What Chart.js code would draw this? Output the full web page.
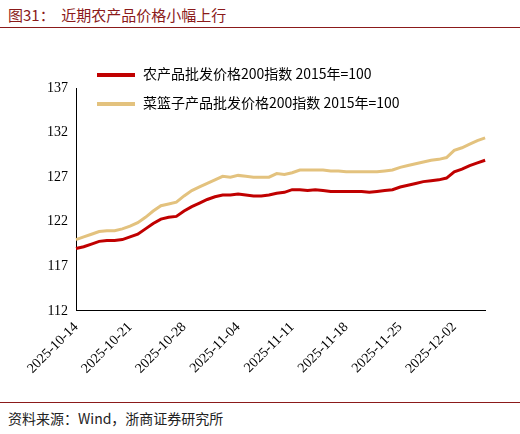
<!DOCTYPE html>
<html><head><meta charset="utf-8">
<script src="https://cdn.jsdelivr.net/npm/chart.js@4"></script>
<style>
body{margin:0;width:520px;height:434px;background:#fff;font-family:"Noto Sans CJK SC","Liberation Serif",serif;position:relative;overflow:hidden}
#title{position:absolute;left:8px;top:4px;font-size:15px;color:#8b1a1a}
#tl{position:absolute;left:0;top:27px;width:520px;border-top:1px solid #8b1a1a}
#bl{position:absolute;left:0;top:402px;width:520px;border-top:1px solid #8b1a1a}
#src{position:absolute;left:8px;top:408px;font-size:14px;color:#222}
#wrap{position:absolute;left:0;top:0;width:500px;height:380px}
.lg{position:absolute;left:97px;font-size:14px;color:#000;font-family:"Noto Sans CJK SC","Liberation Serif";z-index:2;background:transparent}
.lg span{display:inline-block;width:38px;height:4px;vertical-align:middle;margin-right:8px}
</style></head><body>
<div id="title">图31：&nbsp;&nbsp;近期农产品价格小幅上行</div><div id="tl"></div>
<div id="wrap"><canvas id="c"></canvas></div>
<div class="lg" id="l1" style="top:63px"></div>
<div class="lg" id="l2" style="top:92px"></div>
<div id="bl"></div><div id="src">资料来源：Wind，浙商证券研究所</div>
<script>
const dates=[];(function(){const d=new Date(Date.UTC(2025,9,14));for(let i=0;i<54;i++){dates.push(d.toISOString().slice(0,10));d.setUTCDate(d.getUTCDate()+1);}})();
const agri=[119.0,119.2,119.5,119.8,119.9,119.9,120.0,120.3,120.6,121.2,121.8,122.3,122.5,122.6,123.2,123.7,124.1,124.5,124.8,125.0,125.0,125.1,125.0,124.9,124.9,125.0,125.2,125.3,125.6,125.6,125.5,125.6,125.5,125.4,125.4,125.4,125.4,125.4,125.3,125.4,125.5,125.6,125.9,126.1,126.3,126.5,126.6,126.7,126.9,127.6,127.9,128.3,128.6,128.9];
const veg=[120.0,120.3,120.6,120.9,121.0,121.0,121.2,121.5,121.9,122.5,123.2,123.8,124.0,124.2,124.9,125.5,125.9,126.3,126.7,127.1,127.0,127.2,127.1,127.0,127.0,127.0,127.4,127.3,127.5,127.8,127.8,127.8,127.8,127.7,127.7,127.6,127.6,127.6,127.6,127.6,127.7,127.8,128.1,128.3,128.5,128.7,128.9,129.0,129.2,130.0,130.3,130.7,131.1,131.4];
const yTicks=[112,117,122,127,132,137];
const names=['农产品批发价格200指数 2015年=100','菜篮子产品批发价格200指数 2015年=100'];
const colors=['#c00000','#e3c27e'];
document.getElementById('l1').innerHTML='<span style="background:'+colors[0]+'"></span>'+names[0];
document.getElementById('l2').innerHTML='<span style="background:'+colors[1]+'"></span>'+names[1];
new Chart(document.getElementById('c'),{type:'line',
data:{labels:dates,datasets:[
{label:names[0],data:agri,borderColor:colors[0],borderWidth:3,pointRadius:0,tension:0},
{label:names[1],data:veg,borderColor:colors[1],borderWidth:3,pointRadius:0,tension:0}]},
options:{responsive:true,maintainAspectRatio:false,animation:false,
layout:{padding:{left:44,right:0,top:88}},
plugins:{legend:{display:false},tooltip:{enabled:false}},
scales:{
x:{offset:false,grid:{display:false,tickLength:5},border:{color:'#000'},ticks:{autoSkip:false,color:'#000',maxRotation:45,minRotation:45,font:{family:'"Liberation Serif"',size:14},callback:(v,i)=>i%7===0?dates[i]:''}},
y:{min:112,max:137,afterBuildTicks:a=>{a.ticks=yTicks.map(v=>({value:v}));},grid:{display:false,tickLength:5},border:{color:'#000'},ticks:{color:'#000',font:{family:'"Liberation Serif"',size:14}}}
}}});
</script></body></html>
